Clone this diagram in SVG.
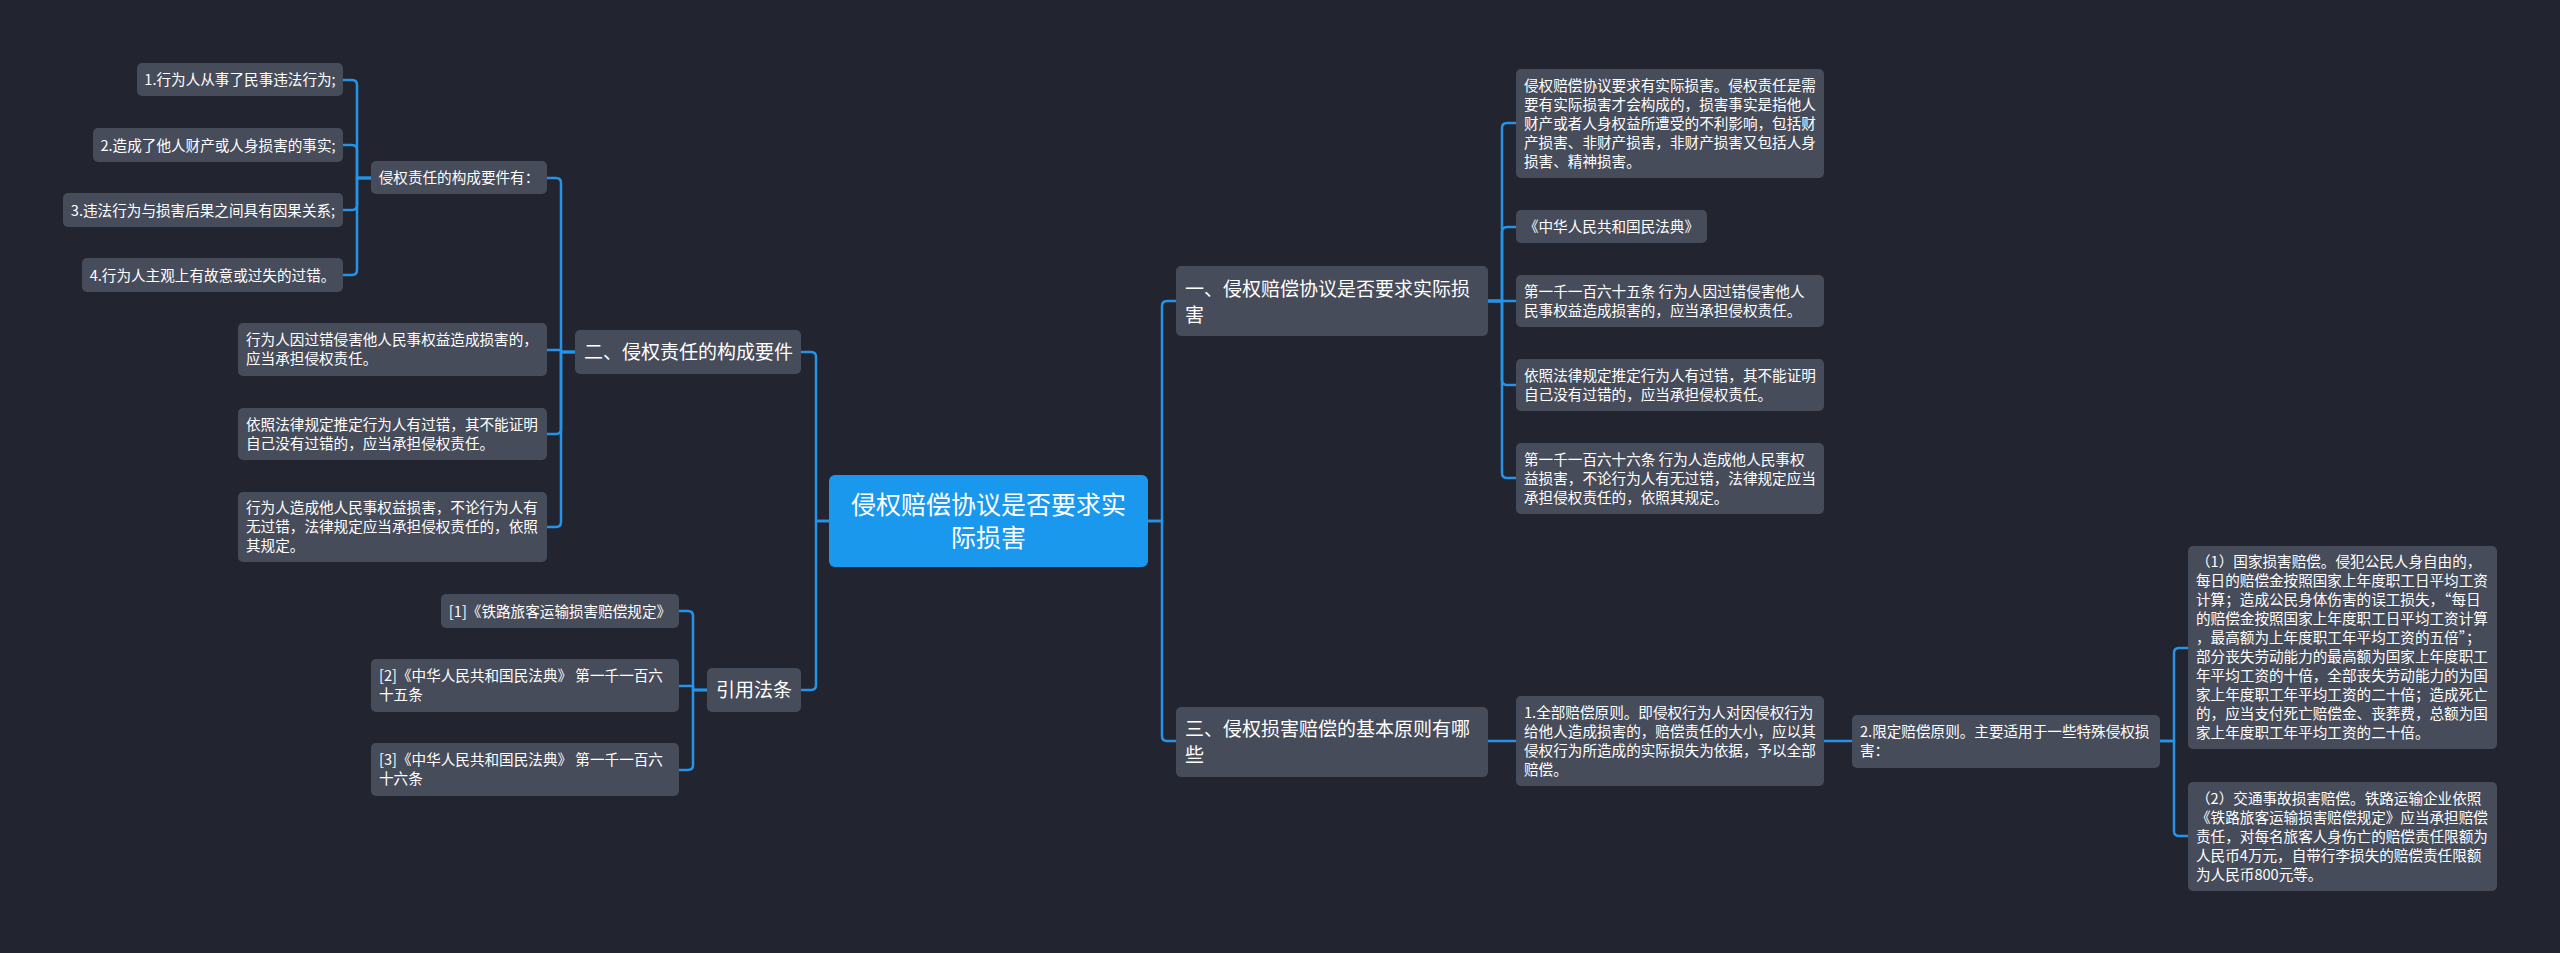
<svg xmlns="http://www.w3.org/2000/svg" width="2560" height="953" viewBox="0 0 2560 953">
<style>
.bg{fill:#22252f}
.n{fill:#474c5b}
.root{fill:#1998ee}
.t{font-family:"Noto Sans CJK SC","Microsoft YaHei",sans-serif;font-size:14.6px;fill:#ffffff}
.c{text-anchor:middle}
.t1{font-family:"Noto Sans CJK SC","Microsoft YaHei",sans-serif;font-size:19px;fill:#ffffff}
.t0{font-family:"Noto Sans CJK SC","Microsoft YaHei",sans-serif;font-size:25px;fill:#ffffff;text-anchor:middle}
.e{fill:none;stroke:#2593e8;stroke-width:2.5;stroke-linecap:round;stroke-linejoin:round}
</style>
<rect class="bg" x="0" y="0" width="2560" height="953"/>
<g id="connectors">
<path class="e" d="M829,521 H816 V357 Q816,352 811,352 H801"/>
<path class="e" d="M829,521 H816 V685 Q816,690 811,690 H801"/>
<path class="e" d="M1148,521 H1162 V306 Q1162,301 1167,301 H1176"/>
<path class="e" d="M1148,521 H1162 V736 Q1162,741 1167,741 H1176"/>
<path class="e" d="M575,352 H561 V183 Q561,178 556,178 H547"/>
<path class="e" d="M575,352 H561 V350 H547"/>
<path class="e" d="M575,352 H561 V429 Q561,434 556,434 H547"/>
<path class="e" d="M575,352 H561 V522 Q561,527 556,527 H547"/>
<path class="e" d="M371,178 H357 V85 Q357,80 352,80 H343"/>
<path class="e" d="M371,178 H357 V150 Q357,145 352,145 H343"/>
<path class="e" d="M371,178 H357 V205 Q357,210 352,210 H343"/>
<path class="e" d="M371,178 H357 V270 Q357,275 352,275 H343"/>
<path class="e" d="M707,690 H693 V616 Q693,611 688,611 H679"/>
<path class="e" d="M707,690 H693 V686 H679"/>
<path class="e" d="M707,690 H693 V765 Q693,770 688,770 H679"/>
<path class="e" d="M1488,301 H1502 V128 Q1502,123 1507,123 H1516"/>
<path class="e" d="M1488,301 H1502 V232 Q1502,227 1507,227 H1516"/>
<path class="e" d="M1488,301 H1516"/>
<path class="e" d="M1488,301 H1502 V380 Q1502,385 1507,385 H1516"/>
<path class="e" d="M1488,301 H1502 V473 Q1502,478 1507,478 H1516"/>
<path class="e" d="M1488,741 H1516"/>
<path class="e" d="M1824,741 H1852"/>
<path class="e" d="M2160,741 H2174 V653 Q2174,648 2179,648 H2188"/>
<path class="e" d="M2160,741 H2174 V831 Q2174,836 2179,836 H2188"/>
</g>
<g id="root">
<rect class="root" x="829" y="475" width="319" height="92" rx="6"/>
<text class="t0" x="988.5" y="514">侵权赔偿协议是否要求实</text>
<text class="t0" x="988.5" y="547">际损害</text>
</g>
<g id="n-er">
<rect class="n" x="575" y="330" width="226" height="44" rx="5"/>
<text class="t1" x="584" y="359">二、侵权责任的构成要件</text>
</g>
<g id="n-yinyong">
<rect class="n" x="707" y="668" width="94" height="44" rx="5"/>
<text class="t1 c" x="754" y="697">引用法条</text>
</g>
<g id="n-yi">
<rect class="n" x="1176" y="266" width="312" height="70" rx="5"/>
<text class="t1" x="1185" y="296">一、侵权赔偿协议是否要求实际损</text>
<text class="t1" x="1185" y="322">害</text>
</g>
<g id="n-san">
<rect class="n" x="1176" y="707" width="312" height="70" rx="5"/>
<text class="t1" x="1185" y="736">三、侵权损害赔偿的基本原则有哪</text>
<text class="t1" x="1185" y="762">些</text>
</g>
<g id="n-youjian">
<rect class="n" x="371" y="161" width="176" height="33" rx="5"/>
<text class="t c" x="459" y="183">侵权责任的构成要件有：</text>
</g>
<g id="n-1">
<rect class="n" x="137" y="63" width="206" height="33" rx="5"/>
<text class="t c" x="240" y="85">1.行为人从事了民事违法行为;</text>
</g>
<g id="n-2">
<rect class="n" x="93" y="128" width="250" height="34" rx="5"/>
<text class="t c" x="218" y="150.5">2.造成了他人财产或人身损害的事实;</text>
</g>
<g id="n-3">
<rect class="n" x="63" y="193" width="280" height="34" rx="5"/>
<text class="t c" x="203" y="215.5">3.违法行为与损害后果之间具有因果关系;</text>
</g>
<g id="n-4">
<rect class="n" x="82" y="258" width="261" height="34" rx="5"/>
<text class="t c" x="212.5" y="280.5">4.行为人主观上有故意或过失的过错。</text>
</g>
<g id="n-leafA">
<rect class="n" x="238" y="323" width="309" height="53" rx="5"/>
<text class="t" x="246" y="345">行为人因过错侵害他人民事权益造成损害的，</text>
<text class="t" x="246" y="364">应当承担侵权责任。</text>
</g>
<g id="n-leafB">
<rect class="n" x="238" y="408" width="309" height="52" rx="5"/>
<text class="t" x="246" y="430">依照法律规定推定行为人有过错，其不能证明</text>
<text class="t" x="246" y="449">自己没有过错的，应当承担侵权责任。</text>
</g>
<g id="n-leafC">
<rect class="n" x="238" y="492" width="309" height="70" rx="5"/>
<text class="t" x="246" y="513">行为人造成他人民事权益损害，不论行为人有</text>
<text class="t" x="246" y="532">无过错，法律规定应当承担侵权责任的，依照</text>
<text class="t" x="246" y="551">其规定。</text>
</g>
<g id="n-c1">
<rect class="n" x="441" y="594" width="238" height="34" rx="5"/>
<text class="t c" x="560" y="616.5">[1]《铁路旅客运输损害赔偿规定》</text>
</g>
<g id="n-c2">
<rect class="n" x="371" y="659" width="308" height="53" rx="5"/>
<text class="t" x="379" y="681">[2]《中华人民共和国民法典》 第一千一百六</text>
<text class="t" x="379" y="700">十五条</text>
</g>
<g id="n-c3">
<rect class="n" x="371" y="743" width="308" height="53" rx="5"/>
<text class="t" x="379" y="765">[3]《中华人民共和国民法典》 第一千一百六</text>
<text class="t" x="379" y="784">十六条</text>
</g>
<g id="n-r1">
<rect class="n" x="1516" y="69" width="308" height="109" rx="5"/>
<text class="t" x="1524" y="91">侵权赔偿协议要求有实际损害。侵权责任是需</text>
<text class="t" x="1524" y="110">要有实际损害才会构成的，损害事实是指他人</text>
<text class="t" x="1524" y="129">财产或者人身权益所遭受的不利影响，包括财</text>
<text class="t" x="1524" y="148">产损害、非财产损害，非财产损害又包括人身</text>
<text class="t" x="1524" y="167">损害、精神损害。</text>
</g>
<g id="n-r2">
<rect class="n" x="1516" y="210" width="191" height="33" rx="5"/>
<text class="t c" x="1611.5" y="232">《中华人民共和国民法典》</text>
</g>
<g id="n-r3">
<rect class="n" x="1516" y="275" width="308" height="52" rx="5"/>
<text class="t" x="1524" y="297">第一千一百六十五条 行为人因过错侵害他人</text>
<text class="t" x="1524" y="316">民事权益造成损害的，应当承担侵权责任。</text>
</g>
<g id="n-r4">
<rect class="n" x="1516" y="359" width="308" height="52" rx="5"/>
<text class="t" x="1524" y="381">依照法律规定推定行为人有过错，其不能证明</text>
<text class="t" x="1524" y="400">自己没有过错的，应当承担侵权责任。</text>
</g>
<g id="n-r5">
<rect class="n" x="1516" y="443" width="308" height="71" rx="5"/>
<text class="t" x="1524" y="465">第一千一百六十六条 行为人造成他人民事权</text>
<text class="t" x="1524" y="484">益损害，不论行为人有无过错，法律规定应当</text>
<text class="t" x="1524" y="503">承担侵权责任的，依照其规定。</text>
</g>
<g id="n-r6">
<rect class="n" x="1516" y="696" width="308" height="90" rx="5"/>
<text class="t" x="1524" y="718">1.全部赔偿原则。即侵权行为人对因侵权行为</text>
<text class="t" x="1524" y="737">给他人造成损害的，赔偿责任的大小，应以其</text>
<text class="t" x="1524" y="756">侵权行为所造成的实际损失为依据，予以全部</text>
<text class="t" x="1524" y="775">赔偿。</text>
</g>
<g id="n-r7">
<rect class="n" x="1852" y="715" width="308" height="53" rx="5"/>
<text class="t" x="1860" y="737">2.限定赔偿原则。主要适用于一些特殊侵权损</text>
<text class="t" x="1860" y="756">害：</text>
</g>
<g id="n-r8">
<rect class="n" x="2188" y="546" width="309" height="203" rx="5"/>
<text class="t" x="2196" y="567">（1）国家损害赔偿。侵犯公民人身自由的，</text>
<text class="t" x="2196" y="586">每日的赔偿金按照国家上年度职工日平均工资</text>
<text class="t" x="2196" y="605">计算；造成公民身体伤害的误工损失，“每日</text>
<text class="t" x="2196" y="624">的赔偿金按照国家上年度职工日平均工资计算</text>
<text class="t" x="2196" y="643">，最高额为上年度职工年平均工资的五倍”；</text>
<text class="t" x="2196" y="662">部分丧失劳动能力的最高额为国家上年度职工</text>
<text class="t" x="2196" y="681">年平均工资的十倍，全部丧失劳动能力的为国</text>
<text class="t" x="2196" y="700">家上年度职工年平均工资的二十倍；造成死亡</text>
<text class="t" x="2196" y="719">的，应当支付死亡赔偿金、丧葬费，总额为国</text>
<text class="t" x="2196" y="738">家上年度职工年平均工资的二十倍。</text>
</g>
<g id="n-r9">
<rect class="n" x="2188" y="782" width="309" height="109" rx="5"/>
<text class="t" x="2196" y="804">（2）交通事故损害赔偿。铁路运输企业依照</text>
<text class="t" x="2196" y="823">《铁路旅客运输损害赔偿规定》应当承担赔偿</text>
<text class="t" x="2196" y="842">责任，对每名旅客人身伤亡的赔偿责任限额为</text>
<text class="t" x="2196" y="861">人民币4万元，自带行李损失的赔偿责任限额</text>
<text class="t" x="2196" y="880">为人民币800元等。</text>
</g>
</svg>
